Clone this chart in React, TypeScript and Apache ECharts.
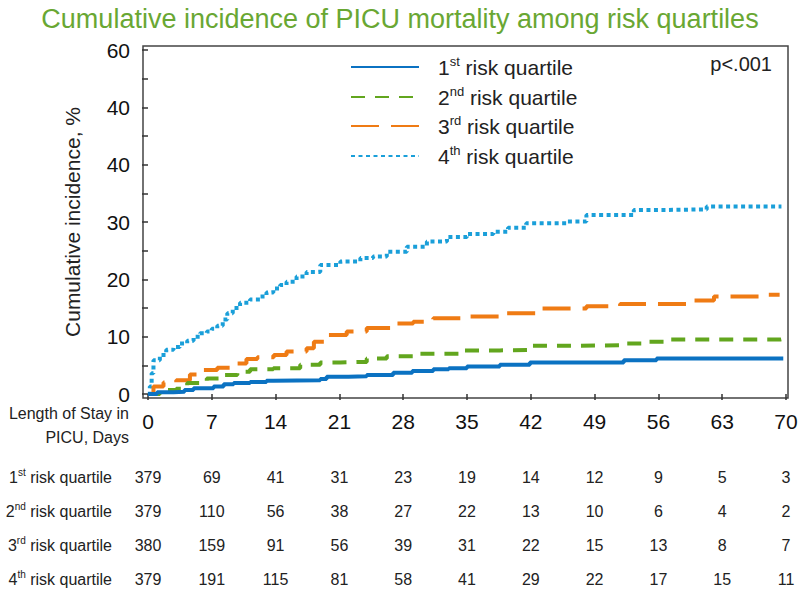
import React, { useEffect, useRef } from "react";
import * as echarts from "echarts";

const TITLE = "Cumulative incidence of PICU mortality among risk quartiles";
const SERIES_NAMES = ["1st risk quartile", "2nd risk quartile", "3rd risk quartile", "4th risk quartile"];
const SUPS = ["st", "nd", "rd", "th"];
const NUMS = ["1", "2", "3", "4"];
const COLORS = ["#0b72c2", "#62a61e", "#ef7b14", "#1a9fd9"];

const yTickLabels = ["0", "10", "20", "30", "40", "40", "60"];
const xTicks = [0, 7, 14, 21, 28, 35, 42, 49, 56, 63, 70];

const atRisk1 = [379, 69, 41, 31, 23, 19, 14, 12, 9, 5, 3];
const atRisk2 = [379, 110, 56, 38, 27, 22, 13, 10, 6, 4, 2];
const atRisk3 = [380, 159, 91, 56, 39, 31, 22, 15, 13, 8, 7];
const atRisk4 = [379, 191, 115, 81, 58, 41, 29, 22, 17, 15, 11];

const q1 = [
  [0, 0], [1, 0.3], [2.8, 0.4], [4, 0.7], [5, 1.0], [7.2, 1.3], [8.3, 1.7], [9.4, 1.9], [11.2, 2.1],
  [13, 2.3], [13.75, 2.4], [18.9, 2.6], [19.6, 3.0], [22, 3.1], [24, 3.3], [26.9, 3.7], [29, 4.0],
  [31.3, 4.3], [33, 4.5], [35, 4.8], [38.6, 5.1], [41.9, 5.5], [50.7, 5.5], [52.2, 5.9], [55.8, 6.2], [69.7, 6.2],
];
const q2 = [
  [0, 0], [1.3, 0.7], [3.1, 0.9], [4.3, 1.9], [6.45, 2.7], [8.3, 3.3], [9.8, 3.9], [11.2, 4.3],
  [13.75, 4.5], [16.7, 5.1], [18.9, 5.5], [21.1, 5.6], [24, 6.2], [26.2, 6.6], [29.1, 7.0], [34.2, 7.6],
  [38.6, 7.7], [41.9, 8.4], [45.2, 8.5], [51.8, 8.8], [54.7, 9.1], [56.9, 9.5], [69.4, 9.6], [69.7, 9.9],
];
const q3 = [
  [0, 0], [0.6, 1.3], [1.7, 2.0], [3.1, 2.4], [4.6, 3.4], [6.1, 4.2], [7.6, 4.6], [9, 5.3], [10.8, 6.1],
  [12, 6.4], [13.8, 6.8], [15.2, 7.4], [17.4, 8.0], [18.2, 9.1], [19.6, 10.3], [21.8, 10.9], [24, 11.5],
  [26.9, 12.3], [29.1, 12.6], [31.3, 13.2], [35, 13.5], [39.4, 14.1], [43, 14.9], [48.1, 15.3],
  [51.8, 15.7], [59.9, 16.3], [62.1, 17.0], [67.2, 17.3], [69.3, 17.3],
];
const q4 = [
  [0, 0], [0.2, 1.3], [0.4, 3.6], [0.6, 5.9], [1.3, 6.8], [2.0, 7.7], [2.8, 8.2], [3.5, 8.8], [4.3, 9.3],
  [5.0, 10.0], [5.7, 10.6], [6.45, 10.9], [7.0, 11.4], [7.6, 11.9], [8.2, 13.0], [8.7, 14.1], [9.3, 15.0],
  [10.1, 15.9], [11.2, 16.5], [12.3, 17.0], [13.0, 17.7], [13.75, 18.4], [14.5, 19.0], [15.2, 19.6],
  [16.3, 20.5], [17.4, 21.3], [18.9, 22.5], [21.1, 23.1], [23.3, 23.7], [24.7, 24.0], [26.2, 24.8],
  [28.4, 25.7], [30.6, 26.6], [32.8, 27.4], [35, 27.9], [37.9, 28.3], [39.5, 29.0], [41.5, 29.8],
  [45.9, 30.1], [48.1, 31.2], [51.1, 31.2], [53.3, 32.1], [56.9, 32.2], [61.3, 32.7], [69.5, 32.8],
];

const SERIES_DATA = [q1, q2, q3, q4];
const AT_RISK = [atRisk1, atRisk2, atRisk3, atRisk4];
const DASHES: any[] = ["solid", [14, 10], [28, 12], [4, 3.5]];

const FONT = "'Liberation Sans', Arial, sans-serif";

export default function App() {
  const ref = useRef<HTMLDivElement>(null);
  useEffect(() => {
    if (!ref.current) return;
    const chart = echarts.init(ref.current, undefined, { renderer: "svg" });
    const GRID_LEFT = 148, GRID_RIGHT = 14, GRID_TOP = 50, GRID_BOTTOM = 205;
    const rowOffsets = [83, 117, 151, 185];

    const riskAxes = AT_RISK.map((arr, i) => ({
      type: "value",
      gridIndex: 0,
      position: "bottom",
      min: 0,
      max: 70,
      interval: 7,
      offset: rowOffsets[i],
      axisLine: { show: false },
      axisTick: { show: false },
      splitLine: { show: false },
      axisLabel: {
        margin: 0,
        verticalAlign: "middle",
        fontFamily: FONT,
        fontSize: 16,
        color: "#222",
        formatter: (v: number) => String(arr[Math.round(v / 7)]),
      },
      name: NUMS[i] + "{sup|" + SUPS[i] + "} risk quartile",
      nameLocation: "start",
      nameGap: 36,
      nameTextStyle: {
        fontFamily: FONT,
        fontSize: 16,
        color: "#222",
        lineHeight: 20,
        rich: { sup: { fontFamily: FONT, fontSize: 10, verticalAlign: "top", lineHeight: 20, color: "#222" } },
      },
    }));

    const option: any = {
      animation: false,
      backgroundColor: "#ffffff",
      title: {
        text: TITLE,
        left: "center",
        top: 0,
        textStyle: { color: "#69a733", fontSize: 27, fontWeight: "normal", fontFamily: FONT },
      },
      grid: {
        left: GRID_LEFT,
        right: GRID_RIGHT,
        top: GRID_TOP,
        bottom: GRID_BOTTOM,
        containLabel: false,
        outerBoundsMode: "none",
      },
      xAxis: [
        {
          type: "value",
          position: "bottom",
          min: 0,
          max: 70,
          interval: 7,
          offset: 4,
          axisLine: { show: false },
          axisTick: { show: true, length: 6, lineStyle: { color: "#333", width: 1.5 } },
          splitLine: { show: false },
          axisLabel: {
            margin: 13,
            fontSize: 21,
            fontFamily: FONT,
            color: "#111",
            formatter: (v: number) => (xTicks.indexOf(v) >= 0 ? String(v) : ""),
          },
        },
        ...riskAxes,
      ],
      yAxis: {
        type: "value",
        min: 0,
        max: 60,
        interval: 5,
        offset: 5,
        axisLine: { show: false },
        axisTick: { show: true, length: 6, lineStyle: { color: "#333", width: 1.5 } },
        splitLine: { show: false },
        axisLabel: {
          margin: 13,
          fontSize: 21,
          fontFamily: FONT,
          color: "#111",
          formatter: (v: number) => (v % 10 === 0 ? yTickLabels[v / 10] : ""),
        },
        name: "Cumulative incidence, %",
        nameLocation: "middle",
        nameGap: 60,
        nameTextStyle: { fontSize: 21, fontFamily: FONT, color: "#222" },
      },
      legend: SERIES_NAMES.map((n, i) => ({
        data: [n],
        left: 350,
        top: [55, 85, 114, 144][i],
        orient: "vertical",
        itemWidth: 68,
        itemHeight: 14,
        padding: 0,
        selectedMode: false,
        itemStyle: { opacity: 0 },
        formatter: () => NUMS[i] + "{sup|" + SUPS[i] + "} risk quartile",
        textStyle: {
          fontFamily: FONT,
          fontSize: 21,
          color: "#222",
          lineHeight: 24,
          padding: [0, 0, 0, 14],
          rich: { sup: { fontFamily: FONT, fontSize: 13, verticalAlign: "top", lineHeight: 24, color: "#222" } },
        },
      })),
      graphic: [
        {
          type: "rect",
          shape: { x: 143, y: 46, width: 645, height: 352 },
          style: { fill: "none", stroke: "#444", lineWidth: 1.5 },
          z: 0,
          silent: true,
        },
        {
          type: "text",
          x: 772,
          y: 64,
          style: { text: "p<.001", align: "right", verticalAlign: "middle", fontSize: 20, fontFamily: FONT, fill: "#222" },
        },
        {
          type: "text",
          x: 129,
          y: 425,
          style: {
            text: "Length of Stay in\nPICU, Days",
            align: "right",
            verticalAlign: "middle",
            fontSize: 16,
            lineHeight: 24,
            fontFamily: FONT,
            fill: "#222",
          },
        },
      ],
      series: SERIES_DATA.map((d, i) => ({
        name: SERIES_NAMES[i],
        type: "line",
        xAxisIndex: 0,
        yAxisIndex: 0,
        step: "end",
        data: d,
        symbol: "none",
        clip: false,
        z: 10 - i,
        lineStyle: { color: COLORS[i], width: 4, type: DASHES[i], cap: "butt" },
        itemStyle: { color: COLORS[i] },
      })),
    };
    chart.setOption(option);
    return () => chart.dispose();
  }, []);
  return <div ref={ref} style={{ position: "absolute", left: 0, top: 0, width: 800, height: 599 }} />;
}
